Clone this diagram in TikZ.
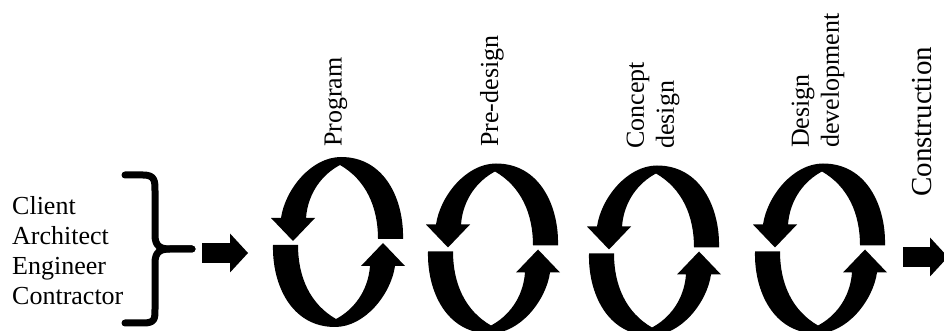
\documentclass[tikz,border=0pt]{standalone}
\usepackage{fontspec}
\setmainfont{Liberation Serif}
\usetikzlibrary{arrows.meta}

\begin{document}
\begin{tikzpicture}[
    x=1pt, y=1pt,
    every node/.style={font=\fontsize{26}{30}\selectfont},
    team/.style={align=left, anchor=west, inner sep=0pt},
    stage/.style={rotate=90, align=left, anchor=west, inner sep=0pt},
    bracket/.style={line width=7pt, line cap=round, line join=round},
    flow/.style={line width=20pt, -{Triangle[length=18pt, width=39pt, line width=0pt]}},
    halfarc/.pic={
        \fill (40,3) -- (65,3)
            .. controls (66,42) and (47,85) .. (3,85)
            .. controls (-27,85) and (-53,52) .. (-57,24)
            -- (-67,24) -- (-45,1) -- (-23,24) -- (-32,24)
            .. controls (-30,50) and (-15,68) .. (2,77)
            .. controls (28,62) and (40,35) .. (40,3) -- cycle;
    },
    cyclearrow/.pic={
        \pic {halfarc};
        \pic[rotate=180] {halfarc};
    }
]
\useasboundingbox (0,0) rectangle (944,331);

% design cycles
\coordinate (program)   at (338,89);
\coordinate (predesign) at (493,82.5);
\coordinate (concept)   at (654,80.5);
\coordinate (develop)   at (820,82.5);

\pic at (program)   {cyclearrow};
\pic at (predesign) {cyclearrow};
\pic at (concept)   {cyclearrow};
\pic at (develop)   {cyclearrow};

\node[stage] (programLabel)   at (336,184) {Program};
\node[stage] (predesignLabel) at (492,184) {Pre-design};
\node[stage] (conceptLabel)   at (653,182) {Concept\\design};
\node[stage] (developLabel)   at (818,183) {Design\\development};
\node[stage, font=\fontsize{29}{33}\selectfont] (constructLabel) at (922,134) {Construction};

% project team
\node[team] (team) at (12,80) {Client\\Architect\\Engineer\\Contractor};
\coordinate (braceTip) at (192,82);
\draw[bracket] (125,156) -- (143,156)
    .. controls (155,156) and (155,150) .. (155,140) -- (155,96)
    .. controls (155,85) and (160,82) .. (170,82) -- (braceTip);
\draw[bracket] (braceTip) -- (170,82)
    .. controls (160,82) and (155,79) .. (155,68) -- (155,22)
    .. controls (155,12) and (155,8) .. (143,8) -- (125,8);

% flow in and out
\coordinate (teamOut)  at (202,78);
\coordinate (cycleIn)  at (248,78);
\coordinate (cycleOut) at (903,74);
\coordinate (buildIn)  at (948,74);
\draw[flow] (teamOut) -- (cycleIn);
\draw[flow] (cycleOut) -- (buildIn);

\end{tikzpicture}
\end{document}
